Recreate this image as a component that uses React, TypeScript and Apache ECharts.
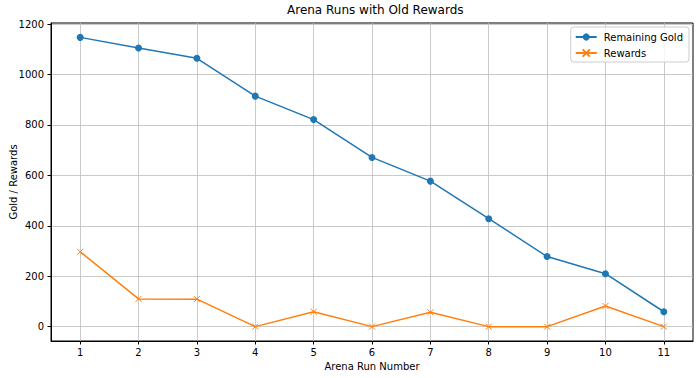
import React, { useEffect, useRef } from "react";
import * as echarts from "echarts";

const runs = [1, 2, 3, 4, 5, 6, 7, 8, 9, 10, 11];
const remainingGold = [1147, 1105, 1064, 914, 821, 671, 577, 428, 278, 210, 59];
const rewards = [297, 110, 109, 0, 59, 0, 57, 0, 0, 82, 0];
const yTicks = [0, 200, 400, 600, 800, 1000, 1200];

const FONT = "DejaVu Sans";

export default function App() {
  const ref = useRef<HTMLDivElement>(null);
  useEffect(() => {
    if (!ref.current) return;
    const chart = echarts.init(ref.current, null, { renderer: "svg" });
    chart.setOption({
      animation: false,
      backgroundColor: "#ffffff",
      textStyle: { fontFamily: FONT },
      title: {
        text: "Arena Runs with Old Rewards",
        left: 287,
        top: 4,
        padding: 0,
        textStyle: { fontFamily: FONT, fontSize: 12, fontWeight: "normal", color: "#000" },
      },
      legend: {
        orient: "vertical",
        right: 11,
        top: 27,
        padding: [5, 6, 4, 4],
        itemGap: 6,
        itemWidth: 21,
        itemHeight: 9,
        backgroundColor: "rgba(255,255,255,0.8)",
        borderColor: "#cccccc",
        borderWidth: 1,
        borderRadius: 3,
        textStyle: { fontFamily: FONT, fontSize: 10, color: "#000", padding: [0, 0, 0, 2] },
        data: ["Remaining Gold", "Rewards"],
      },
      grid: {
        left: 51,
        right: 7,
        top: 23,
        bottom: 37,
        show: true,
        borderColor: "#000",
        borderWidth: 1,
        containLabel: false,
        outerBoundsMode: "none",
      },
      xAxis: {
        type: "value",
        min: 0.5,
        max: 11.5,
        name: "Arena Run Number",
        nameLocation: "middle",
        nameGap: 19,
        nameTextStyle: { fontFamily: FONT, fontSize: 10, color: "#000" },
        axisLine: { show: true, onZero: false, lineStyle: { color: "#000", width: 1 } },
        axisTick: { show: true, inside: false, length: 3.5, lineStyle: { color: "#000" }, customValues: runs },
        axisLabel: { customValues: runs, fontFamily: FONT, fontSize: 10, color: "#000", margin: 6 },
        splitLine: { show: true, lineStyle: { color: "#bdbdbd", width: 0.8 } },
      },
      yAxis: {
        type: "value",
        min: -57,
        max: 1204,
        name: "Gold / Rewards",
        nameLocation: "middle",
        nameGap: 33,
        nameMoveOverlap: false,
        nameTextStyle: { fontFamily: FONT, fontSize: 10, color: "#000" },
        axisLine: { show: true, onZero: false, lineStyle: { color: "#000", width: 1 } },
        axisTick: { show: true, inside: false, length: 3.5, lineStyle: { color: "#000" }, customValues: yTicks },
        axisLabel: {
          customValues: yTicks,
          fontFamily: FONT,
          fontSize: 10,
          color: "#000",
          margin: 7,
          formatter: (v: number) => String(v),
        },
        splitLine: { show: true, lineStyle: { color: "#bdbdbd", width: 0.8 } },
      },
      series: [
        {
          name: "Remaining Gold",
          type: "line",
          data: runs.map((r, i) => [r, remainingGold[i]]),
          symbol: "circle",
          symbolSize: 7,
          lineStyle: { color: "#1f77b4", width: 1.5 },
          itemStyle: { color: "#1f77b4", borderWidth: 0 },
        },
        {
          name: "Rewards",
          type: "line",
          data: runs.map((r, i) => [r, rewards[i]]),
          symbol: "path://M0,0L10,10M10,0L0,10",
          symbolSize: 6,
          lineStyle: { color: "#ff7f0e", width: 1.5 },
          itemStyle: { color: "#ff7f0e", borderColor: "#ff7f0e", borderWidth: 1 },
        },
      ],
    });
    return () => chart.dispose();
  }, []);
  return <div ref={ref} style={{ width: 700, height: 378, position: "absolute", left: 0, top: 0 }} />;
}
